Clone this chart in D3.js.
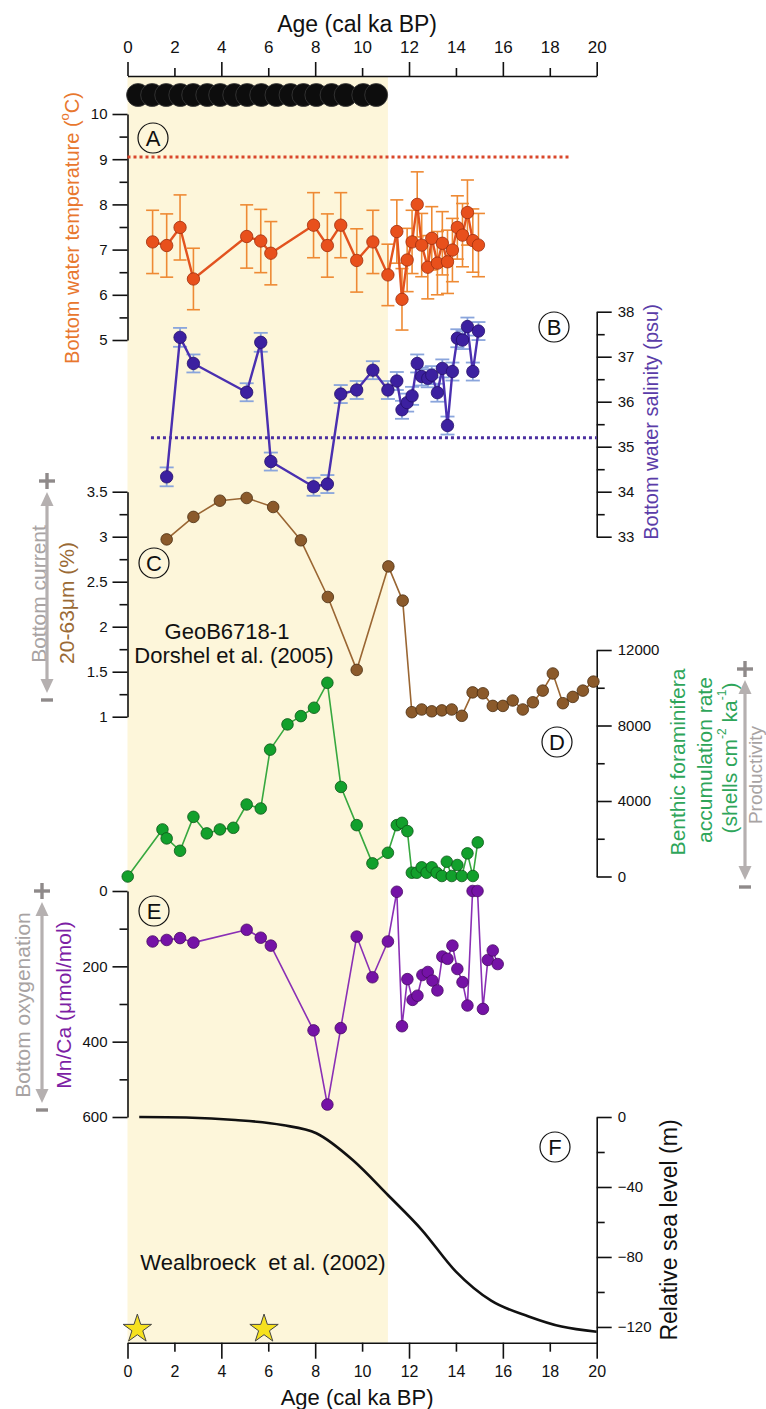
<!DOCTYPE html>
<html>
<head>
<meta charset="utf-8">
<script src="https://cdn.jsdelivr.net/npm/d3@7/dist/d3.min.js"></script>
<style>
    body { margin: 0; background: #fff; }
    svg { display: block; font-family: "Liberation Sans", Arial, Helvetica, sans-serif; }
</style>
</head>
<body>
<svg class="chart" width="766" height="1409"></svg>
<script>
// ---- Data ----
var ageTicks = [0, 2, 4, 6, 8, 10, 12, 14, 16, 18, 20];

// dated levels (black dots on top)
var datedAges = [0.45, 1.05, 1.65, 2.25, 2.8, 3.4, 3.95, 4.55, 5.1, 5.7, 6.35, 6.95, 7.5, 8.05, 8.7, 9.3, 10.05, 10.6];

// A: bottom water temperature
var tempAges = [1.07, 1.67, 2.24, 2.81, 5.08, 5.68, 6.11, 7.93, 8.52, 9.09, 9.77, 10.46, 11.1, 11.48, 11.7, 11.92, 12.13, 12.35, 12.54, 12.8, 12.97, 13.21, 13.42, 13.64, 13.85, 14.06, 14.28, 14.49, 14.72, 14.96];
var tempValues = [7.17, 7.09, 7.49, 6.35, 7.29, 7.19, 6.92, 7.54, 7.09, 7.54, 6.76, 7.17, 6.44, 7.40, 5.90, 6.77, 7.17, 8.0, 7.10, 6.61, 7.25, 6.70, 7.14, 6.73, 6.99, 7.49, 7.32, 7.82, 7.20, 7.10];
var tempErrors = [0.7, 0.7, 0.72, 0.68, 0.7, 0.7, 0.7, 0.72, 0.7, 0.72, 0.7, 0.7, 0.68, 0.7, 0.68, 0.7, 0.7, 0.72, 0.7, 0.7, 0.7, 0.7, 0.7, 0.7, 0.7, 0.7, 0.7, 0.72, 0.7, 0.7];
var tempReference = 9.05;

// B: bottom water salinity
var salAges = [1.67, 2.24, 2.81, 5.08, 5.68, 6.11, 7.93, 8.52, 9.09, 9.77, 10.46, 11.1, 11.48, 11.7, 11.92, 12.13, 12.35, 12.54, 12.8, 12.97, 13.21, 13.42, 13.64, 13.85, 14.06, 14.28, 14.49, 14.72, 14.96];
var salValues = [34.33, 37.43, 36.85, 36.21, 37.32, 34.67, 34.11, 34.17, 36.17, 36.26, 36.7, 36.26, 36.46, 35.82, 35.98, 36.13, 36.85, 36.56, 36.52, 36.59, 36.2, 36.74, 35.47, 36.67, 37.41, 37.37, 37.67, 36.67, 37.57];
var salErrors = [0.21, 0.21, 0.2, 0.2, 0.21, 0.2, 0.2, 0.2, 0.2, 0.2, 0.2, 0.2, 0.2, 0.2, 0.2, 0.2, 0.2, 0.2, 0.2, 0.2, 0.2, 0.2, 0.2, 0.2, 0.2, 0.2, 0.2, 0.2, 0.2];
var salReference = 35.2;

// C: 20-63 um fraction (GeoB6718-1)
var currentAges = [1.67, 2.81, 3.94, 5.08, 6.21, 7.39, 8.54, 9.77, 11.12, 11.73, 12.12, 12.54, 12.97, 13.4, 13.82, 14.25, 14.71, 15.15, 15.57, 16.0, 16.42, 16.85, 17.28, 17.7, 18.13, 18.56, 18.98, 19.41, 19.86];
var currentValues = [2.97, 3.22, 3.40, 3.43, 3.33, 2.96, 2.33, 1.52, 2.67, 2.29, 1.05, 1.08, 1.06, 1.07, 1.08, 1.01, 1.27, 1.26, 1.12, 1.12, 1.18, 1.08, 1.16, 1.29, 1.48, 1.15, 1.22, 1.29, 1.39];

// D: benthic foraminifera accumulation rate
var foramAges = [0.01, 1.49, 1.67, 2.24, 2.81, 3.38, 3.94, 4.51, 5.08, 5.68, 6.08, 6.82, 7.39, 7.95, 8.52, 9.1, 9.77, 10.44, 11.1, 11.48, 11.7, 11.93, 12.12, 12.33, 12.54, 12.75, 12.97, 13.18, 13.4, 13.61, 13.82, 14.06, 14.25, 14.49, 14.72, 14.93];
var foramValues = [0, 2494, 2018, 1363, 3160, 2283, 2494, 2580, 3815, 3604, 6721, 8058, 8497, 8941, 10262, 4745, 2721, 697, 1258, 2721, 2843, 2404, 200, 200, 486, 200, 486, 200, 26, 782, 26, 608, 26, 1226, 26, 1807];

// E: Mn/Ca
var mnAges = [1.07, 1.67, 2.24, 2.81, 5.08, 5.68, 6.11, 7.93, 8.52, 9.09, 9.77, 10.44, 11.1, 11.48, 11.7, 11.93, 12.15, 12.36, 12.57, 12.8, 13.0, 13.21, 13.42, 13.64, 13.85, 14.06, 14.28, 14.49, 14.71, 14.92, 15.15, 15.36, 15.57, 15.78];
var mnValues = [134, 130, 125, 137, 103, 124, 145, 370, 567, 364, 121, 229, 134, 2, 359, 234, 289, 278, 223, 215, 238, 264, 174, 180, 145, 207, 242, 304, 0, 0, 313, 183, 158, 194];

// F: relative sea level (Waelbroeck et al. 2002)
var seaAges = [0.5, 2.5, 4.6, 6.6, 8.05, 9.6, 11.1, 12.55, 14.0, 15.5, 17.1, 18.5, 20];
var seaValues = [0, -0.3, -1.7, -4.6, -9.3, -24.6, -44.6, -64.6, -88.4, -105, -114, -119.8, -122.7];

// coral samples (stars)
var starAges = [0.42, 5.82];

// Holocene shading limit
var shadeEnd = 11.1;

// ---- SVG and scales ----
var svg = d3.select(".chart");

var x = d3.scaleLinear().domain([0, 20]).range([127.5, 596.7]);
var yTemp = d3.scaleLinear().domain([5, 10]).range([340, 114]);
var ySal = d3.scaleLinear().domain([33, 38]).range([536.7, 311.7]);
var yCur = d3.scaleLinear().domain([1, 3.5]).range([716.7, 491.7]);
var yForam = d3.scaleLinear().domain([0, 12000]).range([876.5, 650]);
var yMn = d3.scaleLinear().domain([0, 600]).range([891, 1117]);
var ySea = d3.scaleLinear().domain([-129, 0]).range([1342.7, 1117]);

var topAxisY = 76, bottomAxisY = 1342.7;

// Holocene band
svg.append("rect")
    .attr("x", x(0))
    .attr("y", topAxisY + 1)
    .attr("width", x(shadeEnd) - x(0))
    .attr("height", bottomAxisY - topAxisY - 1)
    .attr("fill", "#fdf6da");

// ---- Axes helpers ----
function styleAxis(g, size) {
    g.attr("font-family", null).attr("font-size", size);
    g.selectAll("path, line").attr("stroke", "#111").attr("stroke-width", 1.6);
    g.selectAll("text").attr("fill", "#111");
}

function leftAxis(scale, major, minor, fmt) {
    var g = svg.append("g").attr("transform", "translate(" + x(0) + ",0)");
    g.call(d3.axisLeft(scale).tickValues(major).tickSize(15).tickSizeOuter(0).tickPadding(5).tickFormat(fmt));
    var m = svg.append("g").attr("transform", "translate(" + x(0) + ",0)");
    m.call(d3.axisLeft(scale).tickValues(minor).tickSize(8).tickFormat(""));
    m.select(".domain").remove();
    styleAxis(g, 15);
    styleAxis(m, 15);
}

function rightAxis(scale, major, minor, fmt) {
    var g = svg.append("g").attr("transform", "translate(" + x(20) + ",0)");
    g.call(d3.axisRight(scale).tickValues(major).tickSize(15).tickSizeOuter(0).tickPadding(6).tickFormat(fmt));
    var m = svg.append("g").attr("transform", "translate(" + x(20) + ",0)");
    m.call(d3.axisRight(scale).tickValues(minor).tickSize(8).tickFormat(""));
    m.select(".domain").remove();
    styleAxis(g, 15);
    styleAxis(m, 15);
}

// Top age axis
var topAxis = svg.append("g")
    .attr("transform", "translate(0," + topAxisY + ")")
    .call(d3.axisTop(x).tickValues(ageTicks).tickSize(8).tickSizeOuter(0).tickPadding(15).tickFormat(d3.format("d")));
styleAxis(topAxis, 17);
topAxis.selectAll(".tick line").filter(function(d) { return d % 4 === 0; }).attr("y2", -14);

svg.append("text")
    .attr("x", x(10) - 5)
    .attr("y", 32)
    .attr("text-anchor", "middle")
    .attr("font-size", 23)
    .attr("fill", "#111")
    .text("Age (cal ka BP)");

// Bottom age axis
var botAxis = svg.append("g")
    .attr("transform", "translate(0," + bottomAxisY + ")")
    .call(d3.axisBottom(x).tickValues(ageTicks).tickSize(9).tickSizeOuter(0).tickPadding(14).tickFormat(d3.format("d")));
styleAxis(botAxis, 16);
botAxis.selectAll(".tick line").filter(function(d) { return d % 4 === 0; }).attr("y2", 16);

svg.append("text")
    .attr("x", x(10) - 5)
    .attr("y", 1405)
    .attr("text-anchor", "middle")
    .attr("font-size", 22)
    .attr("fill", "#111")
    .text("Age (cal ka BP)");

// Dated levels
svg.append("g").selectAll("circle")
    .data(datedAges)
    .enter()
        .append("circle")
        .attr("cx", function(d) { return x(d); })
        .attr("cy", 95)
        .attr("r", 11.5)
        .attr("fill", "#0d0d0d")
        .attr("stroke", "#3a3a3a")
        .attr("stroke-width", 0.8);

// Panel axes
leftAxis(yTemp, [5, 6, 7, 8, 9, 10], [5.5, 6.5, 7.5, 8.5, 9.5], d3.format("d"));
rightAxis(ySal, [33, 34, 35, 36, 37, 38], [33.5, 34.5, 35.5, 36.5, 37.5], d3.format("d"));
leftAxis(yCur, [1, 1.5, 2, 2.5, 3, 3.5], [1.25, 1.75, 2.25, 2.75, 3.25], function(d) { return d; });
rightAxis(yForam, [0, 4000, 8000, 12000], [2000, 6000, 10000], d3.format("d"));
leftAxis(yMn, [0, 200, 400, 600], [100, 300, 500], d3.format("d"));
rightAxis(ySea, [0, -40, -80, -120], [-20, -60, -100], d3.format("d"));

// ---- Series ----
function zip(ages, vals, errs) {
    return ages.map(function(a, i) { return {age: a, value: vals[i], err: errs ? errs[i] : 0}; });
}

function drawErrors(data, y, color, width, cap) {
    var g = svg.append("g").attr("stroke", color).attr("stroke-width", width).attr("fill", "none");
    data.forEach(function(d) {
        var cx = x(d.age), y1 = y(d.value + d.err), y2 = y(d.value - d.err);
        g.append("line").attr("x1", cx).attr("x2", cx).attr("y1", y1).attr("y2", y2);
        g.append("line").attr("x1", cx - cap).attr("x2", cx + cap).attr("y1", y1).attr("y2", y1);
        g.append("line").attr("x1", cx - cap).attr("x2", cx + cap).attr("y1", y2).attr("y2", y2);
    });
}

function drawSeries(data, y, lineColor, lineWidth, fill, stroke, r) {
    var line = d3.line()
        .x(function(d) { return x(d.age); })
        .y(function(d) { return y(d.value); });
    svg.append("path")
        .datum(data)
        .attr("d", line)
        .attr("fill", "none")
        .attr("stroke", lineColor)
        .attr("stroke-width", lineWidth)
        .attr("stroke-linejoin", "round");
    svg.append("g").selectAll("circle")
        .data(data)
        .enter()
            .append("circle")
            .attr("cx", function(d) { return x(d.age); })
            .attr("cy", function(d) { return y(d.value); })
            .attr("r", r)
            .attr("fill", fill)
            .attr("stroke", stroke)
            .attr("stroke-width", 0.8);
}

function refLine(value, y, a0, a1, color) {
    svg.append("line")
        .attr("x1", x(a0)).attr("x2", x(a1))
        .attr("y1", y(value)).attr("y2", y(value))
        .attr("stroke", color)
        .attr("stroke-width", 3)
        .attr("stroke-dasharray", "3,3");
}

// C: bottom current
drawSeries(zip(currentAges, currentValues), yCur, "#9a6633", 1.6, "#8b5a2b", "#4a2d10", 5.8);

// D: foraminifera
drawSeries(zip(foramAges, foramValues), yForam, "#37a83f", 1.6, "#12a02c", "#0b5516", 5.8);

// E: Mn/Ca
drawSeries(zip(mnAges, mnValues), yMn, "#8a2fb5", 1.6, "#7512a6", "#470a63", 5.8);

// A: temperature
refLine(tempReference, yTemp, 0, 18.8, "#d9472b");
var tempData = zip(tempAges, tempValues, tempErrors);
drawErrors(tempData, yTemp, "#ee8a34", 1.6, 6.5);
drawSeries(tempData, yTemp, "#e2531f", 2.4, "#e8501c", "#9e2e0e", 6.2);

// B: salinity
refLine(salReference, ySal, 1.0, 20, "#4b2fa0");
var salData = zip(salAges, salValues, salErrors);
drawErrors(salData, ySal, "#8aa5dc", 1.8, 7);
drawSeries(salData, ySal, "#4a30b0", 2.4, "#3c20a0", "#24106a", 6.2);

// F: sea level
svg.append("path")
    .datum(zip(seaAges, seaValues))
    .attr("d", d3.line()
        .curve(d3.curveMonotoneX)
        .x(function(d) { return x(d.age); })
        .y(function(d) { return ySea(d.value); }))
    .attr("fill", "none")
    .attr("stroke", "#111")
    .attr("stroke-width", 2.6);

// Stars
svg.append("g").selectAll("path")
    .data(starAges)
    .enter()
        .append("path")
        .attr("d", d3.symbol().type(d3.symbolStar).size(250))
        .attr("transform", function(d) { return "translate(" + x(d) + ",1329)"; })
        .attr("fill", "#f6e11e")
        .attr("stroke", "#444")
        .attr("stroke-width", 1);

// ---- Panel letters ----
var letters = [
    {t: "A", cx: 153, cy: 138},
    {t: "B", cx: 554, cy: 327},
    {t: "C", cx: 154, cy: 563},
    {t: "D", cx: 557, cy: 742},
    {t: "E", cx: 154, cy: 911},
    {t: "F", cx: 555, cy: 1147}
];
var lg = svg.append("g").selectAll("g").data(letters).enter().append("g")
    .attr("transform", function(d) { return "translate(" + d.cx + "," + d.cy + ")"; });
lg.append("circle").attr("r", 15).attr("fill", "none").attr("stroke", "#111").attr("stroke-width", 1.2);
lg.append("text")
    .attr("text-anchor", "middle")
    .attr("dy", "0.36em")
    .attr("font-size", 22)
    .attr("fill", "#111")
    .text(function(d) { return d.t; });

// ---- Annotations ----
svg.append("text").attr("x", 227).attr("y", 639).attr("text-anchor", "middle")
    .attr("font-size", 22).attr("fill", "#111").text("GeoB6718-1");
svg.append("text").attr("x", 234).attr("y", 663).attr("text-anchor", "middle")
    .attr("font-size", 22).attr("fill", "#111").text("Dorshel et al. (2005)");
svg.append("text").attr("x", 263).attr("y", 1270).attr("text-anchor", "middle")
    .attr("font-size", 22).attr("fill", "#111").text("Wealbroeck  et al. (2002)")
    .attr("xml:space", "preserve").style("white-space", "pre");

// Rotated axis titles
function vlabel(cx, cy, color, size) {
    return svg.append("text")
        .attr("transform", "translate(" + cx + "," + cy + ") rotate(-90)")
        .attr("text-anchor", "middle")
        .attr("dominant-baseline", "central")
        .attr("font-size", size)
        .attr("fill", color);
}

var tLab = vlabel(72, 228, "#e8772e", 20);
tLab.append("tspan").text("Bottom water temperature (");
tLab.append("tspan").attr("baseline-shift", "super").attr("font-size", 13).text("o");
tLab.append("tspan").text("C)");

vlabel(651, 422, "#5a3ca8", 20).text("Bottom water salinity (psu)");

vlabel(38, 594, "#a8a3a3", 21).text("Bottom current");
vlabel(66, 603, "#9a6a35", 21).text("20-63\u03bcm (%)");

vlabel(677, 762, "#2ea55a", 21).text("Benthic foraminifera");
vlabel(704, 760, "#2ea55a", 21).text("accumulation rate");
var dLab = vlabel(729, 758, "#2ea55a", 21);
dLab.append("tspan").text("(shells cm");
dLab.append("tspan").attr("baseline-shift", "super").attr("font-size", 12).text("-2");
dLab.append("tspan").text(" ka");
dLab.append("tspan").attr("baseline-shift", "super").attr("font-size", 12).text("-1");
dLab.append("tspan").text(")");
vlabel(755, 775, "#a8a3a3", 19).text("Productivity");

vlabel(22, 1005, "#a8a3a3", 21).text("Bottom oxygenation");
vlabel(63, 1005, "#7d1fa5", 21).text("Mn/Ca (\u03bcmol/mol)");

vlabel(669, 1230, "#111", 23).text("Relative sea level (m)");

// ---- Grey double arrows with + / - ----
function doubleArrow(ax, yTop, yBot) {
    var g = svg.append("g").attr("fill", "#b5b0b0");
    g.append("line").attr("x1", ax).attr("x2", ax).attr("y1", yTop + 10).attr("y2", yBot - 10)
        .attr("stroke", "#b5b0b0").attr("stroke-width", 3.2);
    g.append("path").attr("d", "M" + ax + "," + yTop + "l-6.5,14h13z");
    g.append("path").attr("d", "M" + ax + "," + yBot + "l-6.5,-14h13z");
    var s = svg.append("g").attr("stroke", "#8f8a8a").attr("stroke-width", 3.4);
    s.append("line").attr("x1", ax - 8).attr("x2", ax + 8).attr("y1", yTop - 11).attr("y2", yTop - 11);
    s.append("line").attr("x1", ax).attr("x2", ax).attr("y1", yTop - 19).attr("y2", yTop - 3);
    s.append("line").attr("x1", ax - 6).attr("x2", ax + 6).attr("y1", yBot + 7).attr("y2", yBot + 7);
}
doubleArrow(47, 492, 693);
doubleArrow(745, 680, 880);
doubleArrow(42, 902, 1103);
</script>
</body>
</html>
